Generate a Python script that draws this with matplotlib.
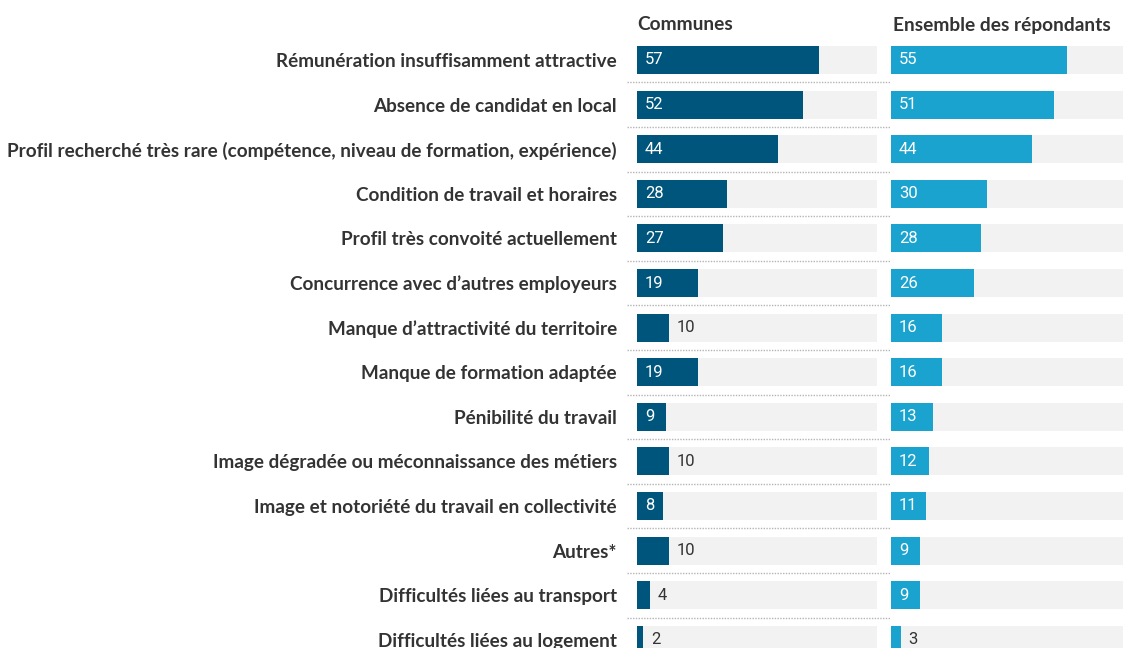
import matplotlib
matplotlib.use("Agg")
from matplotlib import pyplot as plt
from matplotlib import transforms
import numpy as np

categories = [
    "Rémunération insuffisamment attractive",
    "Absence de candidat en local",
    "Profil recherché très rare (compétence, niveau de formation, expérience)",
    "Condition de travail et horaires",
    "Profil très convoité actuellement",
    "Concurrence avec d’autres employeurs",
    "Manque d’attractivité du territoire",
    "Manque de formation adaptée",
    "Pénibilité du travail",
    "Image dégradée ou méconnaissance des métiers",
    "Image et notoriété du travail en collectivité",
    "Autres*",
    "Difficultés liées au transport",
    "Difficultés liées au logement",
]
communes = [57, 52, 44, 28, 27, 19, 10, 19, 9, 10, 8, 10, 4, 2]
ensemble = [55, 51, 44, 30, 28, 26, 16, 16, 13, 12, 11, 9, 9, 3]
# value label drawn after the bar instead of inside it
communes_outside = [False] * 6 + [True, False, False, True, False, True, True, True]
ensemble_outside = [False] * 13 + [True]

panel_titles = ["Communes", "Ensemble des répondants"]

W, H = 1123, 648
DARK = "#00557c"
LIGHT = "#1aa3ce"
TRACK = "#f2f2f2"
TEXT = "#333333"

fig = plt.figure(figsize=(W / 100, H / 100), dpi=100)

n = len(categories)
row0, pitch = 60, 44.6
ylim = ((H - row0) / pitch, -row0 / pitch)
xmax = 75
bar_h = 28 / pitch


def make_ax(left_px):
    ax = fig.add_axes([left_px / W, 0, 240 / W, 1])
    ax.set_xlim(0, xmax)
    ax.set_ylim(*ylim)
    for s in ax.spines.values():
        s.set_visible(False)
    ax.set_xticks([])
    return ax


def draw(ax, values, outside, color):
    y = np.arange(n)
    ax.barh(y, [xmax] * n, height=bar_h, color=TRACK, zorder=1)
    ax.barh(y, values, height=bar_h, color=color, zorder=2)
    pad = 8 / 3.2
    for yi, v, out in zip(y, values, outside):
        if out:
            ax.text(v + pad, yi, str(v), va="center", ha="left", color=TEXT,
                    fontsize=12, family="Roboto", zorder=3)
        else:
            ax.text(pad, yi, str(v), va="center", ha="left", color="white",
                    fontsize=12, family="Roboto", zorder=3)


ax1 = make_ax(637)
ax2 = make_ax(891)
draw(ax1, communes, communes_outside, DARK)
draw(ax2, ensemble, ensemble_outside, LIGHT)

ax1.set_yticks(np.arange(n))
ax1.set_yticklabels(categories, fontsize=13.6, fontweight="bold",
                    family="Lato", color=TEXT)
ax1.tick_params(axis="y", length=0, pad=14.4)
ax2.set_yticks([])

# dotted separators between rows
tr = transforms.blended_transform_factory(fig.transFigure, ax1.transData)
for i in range(n - 1):
    ax1.plot([627 / W, 1], [i + 0.5, i + 0.5], transform=tr, clip_on=False,
             color="#b5b5b5", lw=1, ls=(0, (1, 1)), zorder=0)

fig.text(637 / W, 1 - 25 / H, panel_titles[0], ha="left", va="center",
         fontsize=13.8, fontweight="bold", family="Lato", color=TEXT)
fig.text(893 / W, 1 - 25 / H, panel_titles[1], ha="left", va="center",
         fontsize=13.8, fontweight="bold", family="Lato", color=TEXT)

fig.savefig("out.png", dpi=100)
